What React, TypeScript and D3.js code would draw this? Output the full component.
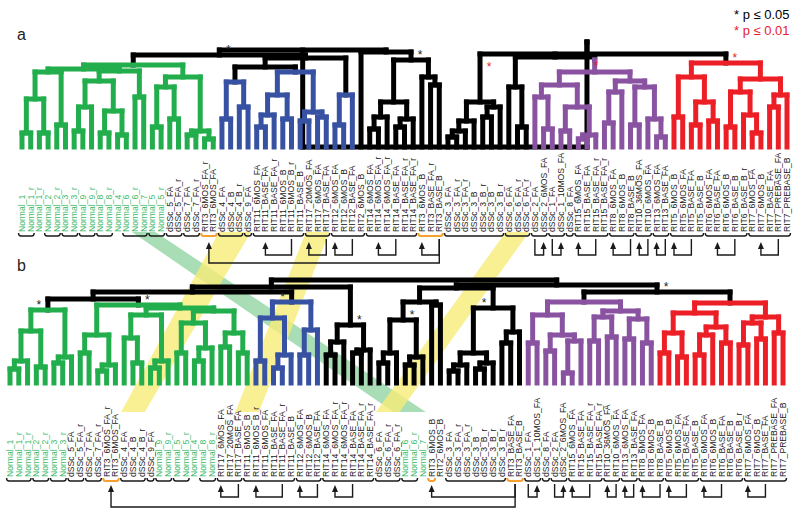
import React from "react";
import * as d3 from "d3";

const W = 799;
const H = 515;

const CLUSTER_COLORS: Record<string, string> = {
  k: "#000000",
  g: "#22ae4c",
  b: "#3852a3",
  p: "#8953a1",
  r: "#ec1f26",
};
const LABEL_GREEN = "#3dba6a";
const LABEL_DARK = "#1a1a1a";
const ORANGE = "#f5a030";
const STAR_RED = "#e8202a";

// ---------- Panel a : dendrogram pieces (leaf "a", "(..,..)height", tags: colour g/b/p/r, star * black / ! red, mode u/d/s, < left)
const A_GREEN_1 = "(((a,a)14,(a,a)14)48,(a,a)22)75";
const A_GREEN_2 = "((((a,a)16,a)40,((a,a)14,(a,a)12)36)66,(a,a)50)76";
const A_GREEN_3 = "(((a,a)20,(a,a)28)60,((a,a)12,(a,a)8)16)70";
const A_GREEN = `((${A_GREEN_1},${A_GREEN_2})78,${A_GREEN_3})82g`;
const A_BLUE_L = "((a,a)28,(a,a)40)65b";
const A_BLUE_M = "((((a,a)20,a)32,(a,a)28)52,((a,a)26,(a,a)30)35)75b";
const A_BLUE_R = "((a,a)22,a)52b";
const A_BLACK_1 = "(a,((((a,a)18,a)30,((a,a)20,a)28)45,(a,(a,a)62)70)87*u)95";
const A_BLACK_2 = "((((a,a)10,a)16,a)26,((a,a)30,a)40)45!s";
const A_PURPLE =
  "((a,(a,a)20)60,((((a,(a,a)18)50,((a,a)16,((a,a)8,a)12)40)62,(((a,a)24,a)55,((a,a)22,(a,(a,a)10)28)60)66)75)87p";
const A_RED = "(((a,a)30,((a,a)22,(a,a)26)45)70,(((a,a)20,(a,(a,a)14)32)55,((a,a)40,a)52)68)84r!u";
const TREE_A = `(((${A_GREEN},((${A_BLUE_L},${A_BLUE_M})80,${A_BLUE_R})89)92*u,${A_BLACK_1})97,((${A_BLACK_2},${A_PURPLE})90,${A_RED})93!d)105`;

// ---------- Panel b : dendrogram pieces
const B_GREEN_L = "((((a,a)14,a)22,(a,a)16)52,((a,a)20,a)26)73g*u<";
const B_GREEN_M = "(((a,a)30,((a,a)12,a)18)48,(((a,(a,a)20)45,((a,a)15,a)22)68,(((a,a)30,((a,a)22,a)35)60,((a,a)36,(a,a)30)50)72)75)78g*u";
const B_BLUE = "(((a,a)22,((a,a)15,a)28)65,((a,a)28,a)53)81b*u<";
const B_BLACK_A = "(((a,a)28,a)41,((a,a)30,a)33)58*u";
const B_BLACK_B = "((((a,a)20,a)30,((a,a)18,a)26)63*u,(a,a)78)81";
const B_BLACK_C = "((((a,a)12,a)18,((a,a)14,a)20)30,((a,a)40,a)51)75*u<";
const B_PURPLE = "(((a,a)40,((a,a)32,((a,a)10,a)42)48)68,(((a,a)42,(a,a)46)66,((a,a)44,(a,a)40)64)72)81p";
const B_RED = "((((a,a)30,(a,a)26)50,(((a,a)28,a)48,(a,a)40)56)70,(((a,a)38,(a,a)44)60,(a,a)50)66)80r";
const TREE_B = `((((${B_GREEN_L},${B_GREEN_M})84,${B_BLUE})91,${B_BLACK_A})96,((${B_BLACK_B},${B_BLACK_C})95,(${B_PURPLE},${B_RED})91*u)98)103`;

// ---------- Leaf labels
const LABELS_A = [
  "Normal_1", "Normal_1_r", "Normal_1_r", "Normal_2", "Normal_2_r", "Normal_3", "Normal_3_r",
  "Normal_9", "Normal_9_r", "Normal_8", "Normal_8_r", "Normal_4", "Normal_6", "Normal_6_r",
  "Normal_7", "Normal_5", "Normal_5_r",
  "dSSc_5_FA", "dSSc_5_FA_r", "dSSc_7_FA", "dSSc_7_FA_r", "RIT3_6MOS_FA_r", "RIT3_6MOS_FA",
  "dSSc_4_FA", "dSSc_4_B", "dSSc_4_B_r", "dSSc_9_FA",
  "RIT11_6MOS_FA", "RIT11_BASE_FA", "RIT11_BASE_FA_r", "RIT11_6MOS_B", "RIT11_6MOS_B_r", "RIT11_BASE_B",
  "RIT17_20MOS_FA", "RIT17_6MOS_FA", "RIT17_BASE_FA",
  "RIT12_6MOS_FA", "RIT12_6MOS_B", "RIT12_BASE_FA", "RIT2_6MOS_B",
  "RIT14_6MOS_FA", "RIT14_6MOS_FA_r", "RIT14_6MOS_FA_r", "RIT14_BASE_FA", "RIT14_BASE_FA_r", "RIT14_BASE_FA_r",
  "RIT3_6MOS_B", "RIT3_BASE_FA_r", "RIT3_BASE_B",
  "dSSc_3_FA", "dSSc_3_FA_r", "dSSc_3_FA_r", "dSSc_3_B", "dSSc_3_B_r", "dSSc_3_B", "dSSc_3_B_r",
  "dSSc_6_FA", "dSSc_6_FA_r", "dSSc_6_FA_r", "dSSc_2_FA", "dSSc_2_6MOS_FA", "dSSc_1_FA", "dSSc_1_10MOS_FA", "dSSc_8_FA",
  "RIT15_6MOS_FA", "RIT15_BASE_FA", "RIT15_BASE_FA_r", "RIT15_BASE_FA_r",
  "RIT8_6MOS_FA", "RIT8_6MOS_B", "RIT8_BASE_B", "RIT10_36MOS_FA", "RIT10_6MOS_FA",
  "RIT13_6MOS_FA", "RIT13_BASE_FA",
  "RIT5_6MOS_B", "RIT5_6MOS_FA", "RIT5_BASE_FA", "RIT5_BASE_B",
  "RIT6_6MOS_FA", "RIT6_BASE_FA", "RIT6_6MOS_B", "RIT6_BASE_B", "RIT6_BASE_B_r",
  "RIT7_6MOS_FA", "RIT7_6MOS_B", "RIT7_BASE_FA", "RIT7_PREBASE_FA", "RIT7_PREBASE_B",
];
const LABELS_B = [
  "Normal_1", "Normal_1_r", "Normal_1_r", "Normal_2", "Normal_2_r", "Normal_3", "Normal_3_r",
  "dSSc_5_FA", "dSSc_5_FA_r", "dSSc_7_FA", "dSSc_7_FA_r", "RIT3_6MOS_FA_r", "RIT3_6MOS_FA",
  "dSSc_4_FA", "dSSc_4_B", "dSSc_4_B_r", "dSSc_9_FA",
  "Normal_9", "Normal_9_r", "Normal_5", "Normal_5_r", "Normal_4", "Normal_8", "Normal_8_r",
  "RIT17_6MOS_FA", "RIT17_20MOS_FA", "RIT17_BASE_FA",
  "RIT11_6MOS_B", "RIT11_6MOS_B_r", "RIT11_6MOS_FA", "RIT11_BASE_FA", "RIT11_BASE_FA_r", "RIT11_BASE_B",
  "RIT12_6MOS_FA", "RIT12_6MOS_B", "RIT12_BASE_FA",
  "RIT14_6MOS_FA", "RIT14_6MOS_FA_r", "RIT14_6MOS_FA_r", "RIT14_BASE_FA", "RIT14_BASE_FA_r", "RIT14_BASE_FA_r",
  "dSSc_6_FA", "dSSc_6_FA_r", "dSSc_6_FA_r", "Normal_6", "Normal_6_r", "Normal_7",
  "RIT3_6MOS_B", "RIT2_6MOS_B",
  "dSSc_3_FA", "dSSc_3_FA_r", "dSSc_3_FA_r", "dSSc_3_B", "dSSc_3_B_r", "dSSc_3_B_r", "dSSc_3_B_r",
  "RIT3_BASE_FA", "RIT3_BASE_B",
  "dSSc_1_FA", "dSSc_1_10MOS_FA", "dSSc_8_FA", "dSSc_2_FA", "dSSc_2_6MOS_FA",
  "RIT15_6MOS_FA", "RIT15_BASE_FA", "RIT15_BASE_FA_r", "RIT15_BASE_FA_r",
  "RIT10_36MOS_FA", "RIT10_6MOS_FA", "RIT13_6MOS_FA", "RIT13_BASE_FA",
  "RIT8_6MOS_FA", "RIT8_6MOS_B", "RIT8_BASE_B",
  "RIT5_6MOS_B", "RIT5_6MOS_FA", "RIT5_BASE_FA", "RIT5_BASE_B",
  "RIT6_6MOS_FA", "RIT6_6MOS_B", "RIT6_BASE_FA", "RIT6_BASE_B", "RIT6_BASE_B_r",
  "RIT7_6MOS_FA", "RIT7_6MOS_B", "RIT7_BASE_FA", "RIT7_PREBASE_FA", "RIT7_PREBASE_B",
];

// ---------- Brackets under label groups: [first, last, kind] (1-based label numbers)
const BRACKETS_A: [number, number, string][] = [
  [1, 2, "k"], [4, 5, "k"], [6, 7, "k"], [8, 9, "k"], [10, 11, "k"], [13, 15, "k"], [16, 17, "k"],
  [18, 19, "k"], [20, 21, "k"], [22, 23, "o"], [24, 26, "k"], [27, 27, "k"],
  [28, 33, "k"], [34, 36, "k"], [37, 40, "k"], [41, 46, "k"], [47, 49, "o"], [50, 56, "k"],
  [57, 59, "k"], [60, 61, "k"], [62, 63, "k"], [64, 64, "k"], [65, 68, "k"], [69, 71, "k"],
  [72, 73, "k"], [74, 75, "k"], [76, 79, "k"], [80, 84, "k"], [85, 89, "k"],
];
const BRACKETS_B: [number, number, string][] = [
  [1, 3, "k"], [4, 5, "k"], [6, 7, "k"], [8, 9, "k"], [10, 11, "k"], [12, 13, "o"], [14, 16, "k"],
  [17, 17, "k"], [18, 19, "k"], [20, 21, "k"], [23, 24, "k"], [25, 27, "k"], [28, 33, "k"],
  [34, 36, "k"], [37, 42, "k"], [43, 45, "k"], [46, 47, "k"], [49, 49, "o"], [51, 57, "k"],
  [58, 59, "o"], [60, 61, "k"], [62, 62, "k"], [63, 64, "k"], [65, 68, "k"], [69, 70, "k"],
  [71, 72, "k"], [73, 75, "k"], [76, 79, "k"], [80, 84, "k"], [85, 89, "k"],
];

// ---------- Arrow connectors: [arrow label, end label, level]
const ARROWS_A: [number, number, number][] = [
  [22.5, 49, 2], [29, 32, 1], [34, 36, 1], [37, 39, 1], [42, 44, 1], [47, 49, 1],
  [61, 60, 1], [63, 62, 1], [65, 67, 1], [69, 71, 1], [72, 73, 1], [74, 75, 1],
  [76, 78, 1], [81, 83, 1], [86, 88, 1],
];
const ARROWS_B: [number, number, number][] = [
  [12.5, 58.5, 2], [25, 27, 1], [29, 32, 1], [34, 36, 1], [38, 40, 1], [49, 58.5, 1],
  [61, 60, 1], [64, 63, 1], [65, 67, 1], [69, 70, 1], [71, 72, 1], [73, 75, 1],
  [76, 78, 1], [80, 82, 1], [85, 87, 1],
];

// ---------- Bands linking label groups of a to b: [aFirst, aLast, bFirst, bLast, colour]
const BANDS: [number, number, number, number, string][] = [
  [14, 16, 45, 48, "green"],
  [24, 27, 14, 16, "yellow"],
  [34, 36, 27, 29, "yellow"],
  [57, 59, 43, 45, "yellow"],
];

// ---------- Legend
const LEGEND = [
  { text: "* p \u2264 0.05", color: "#000000" },
  { text: "* p \u2264 0.01", color: STAR_RED },
];

type Star = { red: boolean; mode: string; left: boolean };
type TNode = { children?: TNode[]; h: number; color?: string; star?: Star };

function parseTree(s: string): TNode {
  let i = 0;
  const isNum = (c: string) => (c >= "0" && c <= "9") || c === ".";
  function readTags(n: TNode) {
    while (i < s.length && "gbpr*!uds<".includes(s[i])) {
      const c = s[i++];
      if ("gbpr".includes(c)) n.color = c;
      else if (c === "*" || c === "!") n.star = { red: c === "!", mode: "u", left: false };
      else if (c === "<") {
        if (n.star) n.star.left = true;
      } else if (n.star) n.star.mode = c;
    }
  }
  function node(): TNode {
    if (s[i] === "(") {
      i++;
      const children = [node()];
      while (s[i] === ",") {
        i++;
        children.push(node());
      }
      i++;
      let num = "";
      while (i < s.length && isNum(s[i])) num += s[i++];
      const n: TNode = { children, h: parseFloat(num) || 0 };
      readTags(n);
      return n;
    }
    i++;
    return { h: 0 };
  }
  return node();
}

type Seg = { x1: number; y1: number; x2: number; y2: number; col: string };
type StarPos = { x: number; y: number; red: boolean };

function buildDendro(tree: string, n: number, x0: number, x1: number, base: number, hMax: number, top: number) {
  const root: any = d3.hierarchy(parseTree(tree));
  const xs = d3.scaleLinear().domain([0, n - 1]).range([x0, x1]);
  const ys = d3.scaleLinear().domain([0, hMax]).range([base, top]);
  root.each((d: any) => {
    d.col = d.data.color || (d.parent ? d.parent.col : "k");
  });
  root.leaves().forEach((l: any, i: number) => {
    l.px = xs(i);
  });
  root.eachAfter((d: any) => {
    if (d.children) d.px = d3.mean(d.children, (c: any) => c.px);
    d.py = ys(d.data.h);
  });
  const segs: Seg[] = [];
  const stars: StarPos[] = [];
  root.each((d: any) => {
    if (d.children) {
      const cx = d.children.map((c: any) => c.px);
      segs.push({ x1: d3.min(cx) as number, y1: d.py, x2: d3.max(cx) as number, y2: d.py, col: d.col });
      d.children.forEach((c: any) => segs.push({ x1: c.px, y1: d.py, x2: c.px, y2: c.py, col: d.col }));
    }
    const st: Star | undefined = d.data.star;
    if (st) {
      const dx = st.left ? -9 : 9;
      let y = d.py - 7;
      if (st.mode === "d") y = d.py + 10;
      if (st.mode === "s" && d.parent) y = d.parent.py + 11;
      stars.push({ x: d.px + dx, y, red: st.red });
    }
  });
  segs.sort((a, b) => (a.col === "k" ? 0 : 1) - (b.col === "k" ? 0 : 1));
  return { segs, stars, xs };
}

const PANEL_A = { x0: 22, x1: 787, base: 147, hMax: 105, top: 42, labelBase: 232, bracketY: 236, tipY: 242, lvl1: 255, lvl2: 263 };
const PANEL_B = { x0: 10, x1: 783, base: 383, hMax: 103, top: 280, labelBase: 477, bracketY: 481, tipY: 485, lvl1: 497, lvl2: 507 };
const FONT = "Liberation Sans, Arial, sans-serif";

function Panel({ tree, labels, brackets, arrows, cfg }: any) {
  const n = labels.length;
  const { segs, stars, xs } = buildDendro(tree, n, cfg.x0, cfg.x1, cfg.base, cfg.hMax, cfg.top);
  const lx = (k: number) => xs(k - 1);
  return (
    <g>
      {segs.map((s, i) => (
        <line key={"s" + i} x1={s.x1} y1={s.y1} x2={s.x2} y2={s.y2} stroke={CLUSTER_COLORS[s.col]} strokeWidth={5} strokeLinecap="square" />
      ))}
      {stars.map((s, i) => (
        <text key={"st" + i} x={s.x} y={s.y + 6} textAnchor="middle" fontSize={12} fontFamily={FONT} fill={s.red ? STAR_RED : "#222"}>
          *
        </text>
      ))}
      {labels.map((t: string, i: number) => {
        const x = xs(i) + 3;
        return (
          <text key={"l" + i} x={x} y={cfg.labelBase} transform={`rotate(-90 ${x} ${cfg.labelBase})`} fontSize={8.6} fontFamily={FONT} fill={t.startsWith("Normal") ? LABEL_GREEN : LABEL_DARK}>
            {t}
          </text>
        );
      })}
      {brackets.map(([a, b, k]: [number, number, string], i: number) => {
        const xa = lx(a) - 3.5;
        const xb = lx(b) + 3.5;
        const y = cfg.bracketY;
        const d = `M${xa},${y - 3} Q${xa},${y} ${xa + 2.5},${y} L${xb - 2.5},${y} Q${xb},${y} ${xb},${y - 3}`;
        return <path key={"b" + i} d={d} fill="none" stroke={k === "o" ? ORANGE : "#1a1a1a"} strokeWidth={k === "o" ? 2 : 1.4} />;
      })}
      {arrows.map(([a, e, lv]: [number, number, number], i: number) => {
        const xa = lx(a);
        const xe = lx(e);
        const ly = lv === 2 ? cfg.lvl2 : cfg.lvl1;
        const d = `M${xa},${cfg.tipY + 5} V${ly} H${xe} V${cfg.bracketY + 3}`;
        return (
          <g key={"a" + i}>
            <path d={d} fill="none" stroke="#1a1a1a" strokeWidth={1.4} />
            <path d={`M${xa},${cfg.tipY} L${xa - 3},${cfg.tipY + 7} L${xa + 3},${cfg.tipY + 7} Z`} fill="#1a1a1a" />
          </g>
        );
      })}
    </g>
  );
}

export default function App() {
  const xa = d3.scaleLinear().domain([0, LABELS_A.length - 1]).range([PANEL_A.x0, PANEL_A.x1]);
  const xb = d3.scaleLinear().domain([0, LABELS_B.length - 1]).range([PANEL_B.x0, PANEL_B.x1]);
  const bandTop = 232;
  const bandBot = 412;
  return (
    <svg width={W} height={H} viewBox={`0 0 ${W} ${H}`} style={{ position: "fixed", left: 0, top: 0, background: "#fff" }}>
      <rect x={0} y={0} width={W} height={H} fill="#fff" />
      {BANDS.map(([a1, a2, b1, b2, c], i) => {
        const pts = [
          [xa(a1 - 1) - 3, bandTop],
          [xa(a2 - 1) + 3, bandTop],
          [xb(b2 - 1) + 3, bandBot],
          [xb(b1 - 1) - 3, bandBot],
        ];
        return <polygon key={"band" + i} points={pts.map((p) => p.join(",")).join(" ")} fill={c === "green" ? "#93d4a3" : "#f6ec78"} opacity={0.8} />;
      })}
      <Panel tree={TREE_A} labels={LABELS_A} brackets={BRACKETS_A} arrows={ARROWS_A} cfg={PANEL_A} />
      <Panel tree={TREE_B} labels={LABELS_B} brackets={BRACKETS_B} arrows={ARROWS_B} cfg={PANEL_B} />
      <text x={17} y={40} fontSize={16} fontFamily={FONT} fill="#231f20">a</text>
      <text x={17} y={271} fontSize={16} fontFamily={FONT} fill="#231f20">b</text>
      {LEGEND.map((l, i) => (
        <text key={"lg" + i} x={734} y={19 + i * 16} fontSize={13} fontFamily={FONT} fill={l.color}>
          {l.text}
        </text>
      ))}
    </svg>
  );
}
